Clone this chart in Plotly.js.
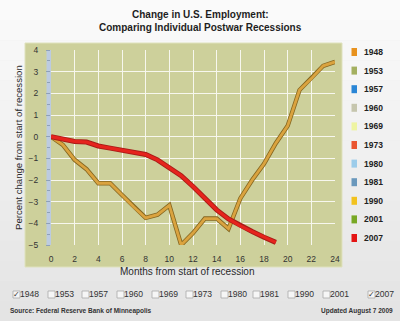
<!DOCTYPE html>
<html>
<head>
<meta charset="utf-8">
<script src="https://cdn.plot.ly/plotly-3.0.1.min.js"></script>
<style>html,body{margin:0;padding:0;background:#ececec;}#chart{width:400px;height:321px;}</style>
</head>
<body>
<div id="chart"></div>
<script>
// ---- data ----
const months1948 = [0,1,2,3,4,5,6,7,8,9,10,11,12,13,14,15,16,17,18,19,20,21,22,23,24];
const rec1948 = [0,-0.38,-1.07,-1.5,-2.15,-2.15,-2.69,-3.25,-3.75,-3.6,-3.17,-5.0,-4.45,-3.78,-3.78,-4.25,-2.85,-2.0,-1.25,-0.3,0.5,2.15,2.68,3.27,3.45];
const months2007 = [0,1,2,3,4,5,6,7,8,9,10,11,12,13,14,15,16,17,18,19];
const rec2007 = [0,-0.1,-0.22,-0.25,-0.43,-0.53,-0.62,-0.72,-0.82,-1.07,-1.45,-1.8,-2.3,-2.84,-3.38,-3.8,-4.12,-4.38,-4.64,-4.88];
const years = ['1948','1953','1957','1960','1969','1973','1980','1981','1990','2001','2007'];
const yearColors = ['#e8921e','#a4b060','#2a86d6','#c6c6ae','#eef4a2','#ea5530','#9cccea','#6a98bc','#f2c21e','#78a824','#e41414'];
const checkedYears = ['1948','2007'];
const xTicks = [0,2,4,6,8,10,12,14,16,18,20,22,24];
const yTicks = [-5,-4,-3,-2,-1,0,1,2,3,4];

// ---- geometry helpers (pixel -> paper) ----
const L = 51, R = 335, T = 50, B = 245;
const px = x => (x - L) / (R - L);
const py = y => (B - y) / (B - T);

const FONT = 'Liberation Sans, Arial, sans-serif';

const traces = [
  {x: months1948, y: rec1948, mode: 'lines', line: {color: '#856620', width: 4.4}, hoverinfo: 'skip', showlegend: false},
  {x: months1948, y: rec1948, mode: 'lines', line: {color: '#daa33f', width: 2.8}, name: '1948', showlegend: false},
  {x: months2007, y: rec2007, mode: 'lines', line: {color: '#a81c18', width: 5}, hoverinfo: 'skip', showlegend: false},
  {x: months2007, y: rec2007, mode: 'lines', line: {color: '#e6241d', width: 3.2}, name: '2007', showlegend: false}
];

const shapes = [];
const annotations = [];

// background gradient bands
const bands = 16;
for (let i = 0; i < bands; i++) {
  const c = Math.round(250 - (250 - 228) * i / (bands - 1));
  shapes.push({type: 'rect', xref: 'paper', yref: 'paper', layer: 'below',
    x0: px(0), x1: px(400), y0: py(321 * (i + 1) / bands), y1: py(321 * i / bands),
    line: {width: 0}, fillcolor: `rgb(${c},${c},${c})`});
}
// green panel
shapes.push({type: 'rect', xref: 'paper', yref: 'paper', layer: 'below',
  x0: px(25), x1: px(342), y0: py(267), y1: py(43),
  line: {width: 1, color: '#dfe2bd'}, fillcolor: '#cdd09b'});
// blue y-axis strip
shapes.push({type: 'rect', xref: 'paper', yref: 'paper', layer: 'below',
  x0: px(46.5), x1: px(51), y0: 0, y1: 1,
  line: {width: 0}, fillcolor: '#bccbe0'});

// title
annotations.push({xref: 'paper', yref: 'paper', x: px(200), y: py(15), text: '<b>Change in U.S. Employment:</b>',
  showarrow: false, xanchor: 'center', yanchor: 'middle', font: {family: FONT, size: 10, color: '#1e1e1e'}});
annotations.push({xref: 'paper', yref: 'paper', x: px(200), y: py(28), text: '<b>Comparing Individual Postwar Recessions</b>',
  showarrow: false, xanchor: 'center', yanchor: 'middle', font: {family: FONT, size: 10, color: '#1e1e1e'}});
// axis titles
annotations.push({xref: 'paper', yref: 'paper', x: px(187), y: py(271), text: 'Months from start of recession',
  showarrow: false, xanchor: 'center', yanchor: 'middle', font: {family: FONT, size: 10, color: '#2a2a2a'}});
annotations.push({xref: 'paper', yref: 'paper', x: px(18), y: py(148), text: 'Percent change from start of recession',
  textangle: -90, showarrow: false, xanchor: 'center', yanchor: 'middle', font: {family: FONT, size: 9.6, color: '#2a2a2a'}});

// side legend
years.forEach((yr, i) => {
  const cy = 52 + i * 18.6;
  shapes.push({type: 'rect', xref: 'paper', yref: 'paper', x0: px(351.5), x1: px(357), y0: py(cy + 4), y1: py(cy - 4),
    line: {width: 0}, fillcolor: yearColors[i]});
  annotations.push({xref: 'paper', yref: 'paper', x: px(362), y: py(cy), text: '<b>' + yr + '</b>',
    showarrow: false, xanchor: 'left', yanchor: 'middle', font: {family: FONT, size: 8.5, color: '#222'}});
});

// checkbox row
const boxX = [13,48,82,117,152,186,221,253,288,323,368];
years.forEach((yr, i) => {
  const bx = boxX[i];
  shapes.push({type: 'rect', xref: 'paper', yref: 'paper', x0: px(bx), x1: px(bx + 7), y0: py(298), y1: py(291),
    line: {width: 0.8, color: '#a9a9a9'}, fillcolor: '#f6f6f6'});
  if (checkedYears.includes(yr)) {
    annotations.push({xref: 'paper', yref: 'paper', x: px(bx + 3.8), y: py(294.5), text: '✓',
      showarrow: false, xanchor: 'center', yanchor: 'middle', font: {family: 'DejaVu Sans', size: 8, color: '#333'}});
  }
  annotations.push({xref: 'paper', yref: 'paper', x: px(bx + 5), y: py(294), text: yr,
    showarrow: false, xanchor: 'left', yanchor: 'middle', font: {family: FONT, size: 8.6, color: '#333'}});
});

// footer
annotations.push({xref: 'paper', yref: 'paper', x: px(8), y: py(311), text: '<b>Source: Federal Reserve Bank of Minneapolis</b>',
  showarrow: false, xanchor: 'left', yanchor: 'middle', font: {family: FONT, size: 6.5, color: '#333'}});
annotations.push({xref: 'paper', yref: 'paper', x: px(395), y: py(311), text: '<b>Updated August 7 2009</b>',
  showarrow: false, xanchor: 'right', yanchor: 'middle', font: {family: FONT, size: 6.5, color: '#333'}});

const layout = {
  width: 400, height: 321,
  margin: {l: L, r: 400 - R, t: T, b: 321 - B, pad: 0},
  paper_bgcolor: '#ececec',
  plot_bgcolor: '#cdd09b',
  showlegend: false,
  xaxis: {range: [0, 24], tickvals: xTicks, showgrid: true, gridcolor: '#f7f7ee', gridwidth: 1,
    zeroline: false, showline: false, ticks: '', ticklabelstandoff: 7,
    tickfont: {family: FONT, size: 8.5, color: '#333'}, fixedrange: true},
  yaxis: {range: [-5, 4], tickvals: yTicks, showgrid: true, gridcolor: '#f7f7ee', gridwidth: 1,
    zeroline: false, showline: false, ticks: 'outside', ticklen: 4, tickcolor: '#8ea0b8', ticklabelstandoff: 6,
    minor: {dtick: 0.5, ticks: 'outside', ticklen: 3, tickcolor: '#8ea0b8', showgrid: false},
    tickfont: {family: FONT, size: 8.5, color: '#333'}, fixedrange: true},
  shapes: shapes,
  annotations: annotations
};

Plotly.newPlot('chart', traces, layout, {displayModeBar: false, staticPlot: true});
</script>
</body>
</html>
